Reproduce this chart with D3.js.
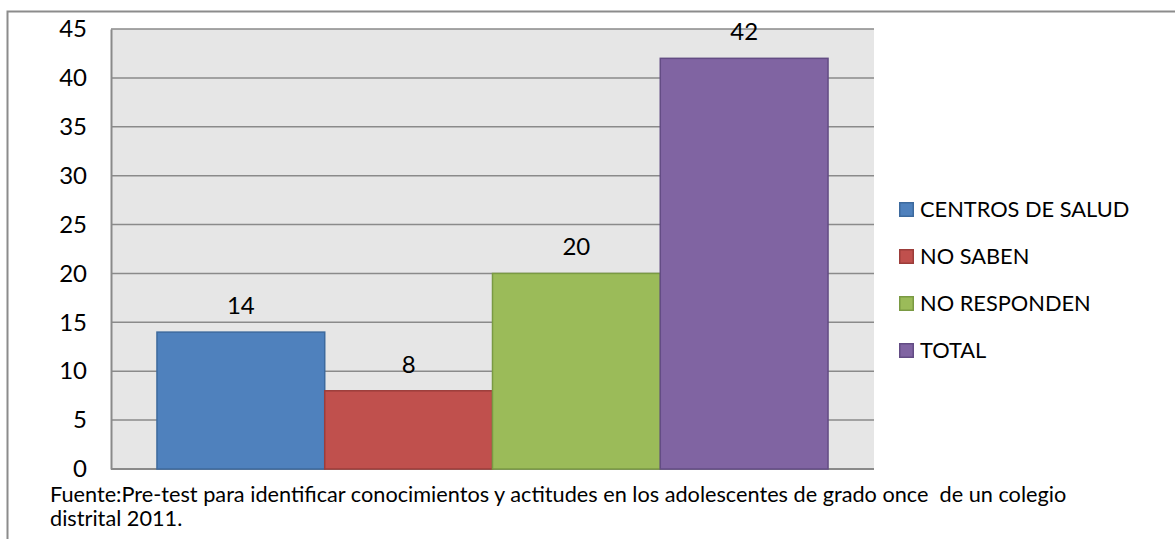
<!DOCTYPE html>
<html>
<head>
<meta charset="utf-8">
<script src="https://cdn.jsdelivr.net/npm/d3@7/dist/d3.min.js"></script>
<style>
  html, body { margin: 0; padding: 0; background: #fff; }
  svg { display: block; }
  text { font-family: Lato, "Open Sans", sans-serif; fill: #000; }
</style>
</head>
<body>
<svg id="chart" width="1175" height="539"></svg>
<script>
// Respuestas del pre-test
const series = ["CENTROS DE SALUD", "NO SABEN", "NO RESPONDEN", "TOTAL"];
const values = [14, 8, 20, 42];
const yTicks = [0, 5, 10, 15, 20, 25, 30, 35, 40, 45];
const fills = ["#4F81BD", "#C0504D", "#9BBB59", "#8064A2"];
const strokes = ["#3D6A9E", "#9C3D3A", "#7A9A43", "#634C84"];
const footer = [
  "Fuente:Pre-test para identificar conocimientos y actitudes en los adolescentes de grado once  de un colegio",
  "distrital 2011."
];

const svg = d3.select("#chart");

// marco exterior
svg.append("rect")
  .attr("x", 7.5).attr("y", 11.5)
  .attr("width", 1300).attr("height", 700)
  .attr("fill", "none").attr("stroke", "#8c8c8c").attr("stroke-width", 2);

const plot = { left: 111, right: 874, top: 29, bottom: 469 };

const y = d3.scaleLinear().domain([0, 45]).range([plot.bottom, plot.top]);
const x = d3.scaleBand().domain(series)
  .range([plot.left, plot.right])
  .paddingInner(0).paddingOuter(0.274);

// fondo del área de trazado
svg.append("rect")
  .attr("x", plot.left).attr("y", plot.top)
  .attr("width", plot.right - plot.left).attr("height", plot.bottom - plot.top)
  .attr("fill", "#E6E6E6");

// líneas de cuadrícula
svg.append("g")
  .selectAll("line")
  .data(yTicks.filter(d => d > 0))
  .join("line")
  .attr("x1", plot.left).attr("x2", plot.right)
  .attr("y1", d => y(d)).attr("y2", d => y(d))
  .attr("stroke", "#8a8a8a").attr("stroke-width", 1.5);

// eje vertical
const yAxis = d3.axisLeft(y).tickValues(yTicks).tickSize(0).tickPadding(24);
const gy = svg.append("g").attr("transform", `translate(${plot.left},0)`).call(yAxis);
gy.select(".domain").attr("stroke", "#8a8a8a").attr("stroke-width", 2);
gy.selectAll("text")
  .style("font-family", "Lato, 'Open Sans', sans-serif")
  .style("font-size", "24px")
  .attr("fill", "#000");

// línea base
svg.append("line")
  .attr("x1", plot.left).attr("x2", plot.right)
  .attr("y1", y(0)).attr("y2", y(0))
  .attr("stroke", "#8a8a8a").attr("stroke-width", 2);

// barras
svg.append("g")
  .selectAll("rect")
  .data(series)
  .join("rect")
  .attr("x", d => x(d))
  .attr("y", (d, i) => y(values[i]))
  .attr("width", x.bandwidth())
  .attr("height", (d, i) => y(0) - y(values[i]))
  .attr("fill", (d, i) => fills[i])
  .attr("stroke", (d, i) => strokes[i])
  .attr("stroke-width", 1.5);

// etiquetas de valor
svg.append("g")
  .selectAll("text")
  .data(series)
  .join("text")
  .attr("x", d => x(d) + x.bandwidth() / 2)
  .attr("y", (d, i) => y(values[i]) - 18)
  .attr("text-anchor", "middle")
  .style("font-size", "24px")
  .text((d, i) => values[i]);

// leyenda
const legend = svg.append("g")
  .selectAll("g")
  .data(series)
  .join("g")
  .attr("transform", (d, i) => `translate(899, ${202 + i * 47})`);
legend.append("rect")
  .attr("x", 0.75).attr("y", 0.75)
  .attr("width", 13.5).attr("height", 13.5)
  .attr("fill", (d, i) => fills[i])
  .attr("stroke", (d, i) => strokes[i])
  .attr("stroke-width", 1.5);
legend.append("text")
  .attr("x", 21).attr("y", 15)
  .style("font-size", "21.8px")
  .text(d => d);

// fuente
svg.append("g")
  .selectAll("text")
  .data(footer)
  .join("text")
  .attr("x", 50)
  .attr("y", (d, i) => 502 + i * 24)
  .style("font-size", "21.7px")
  .attr("xml:space", "preserve")
  .text(d => d);
</script>
</body>
</html>
